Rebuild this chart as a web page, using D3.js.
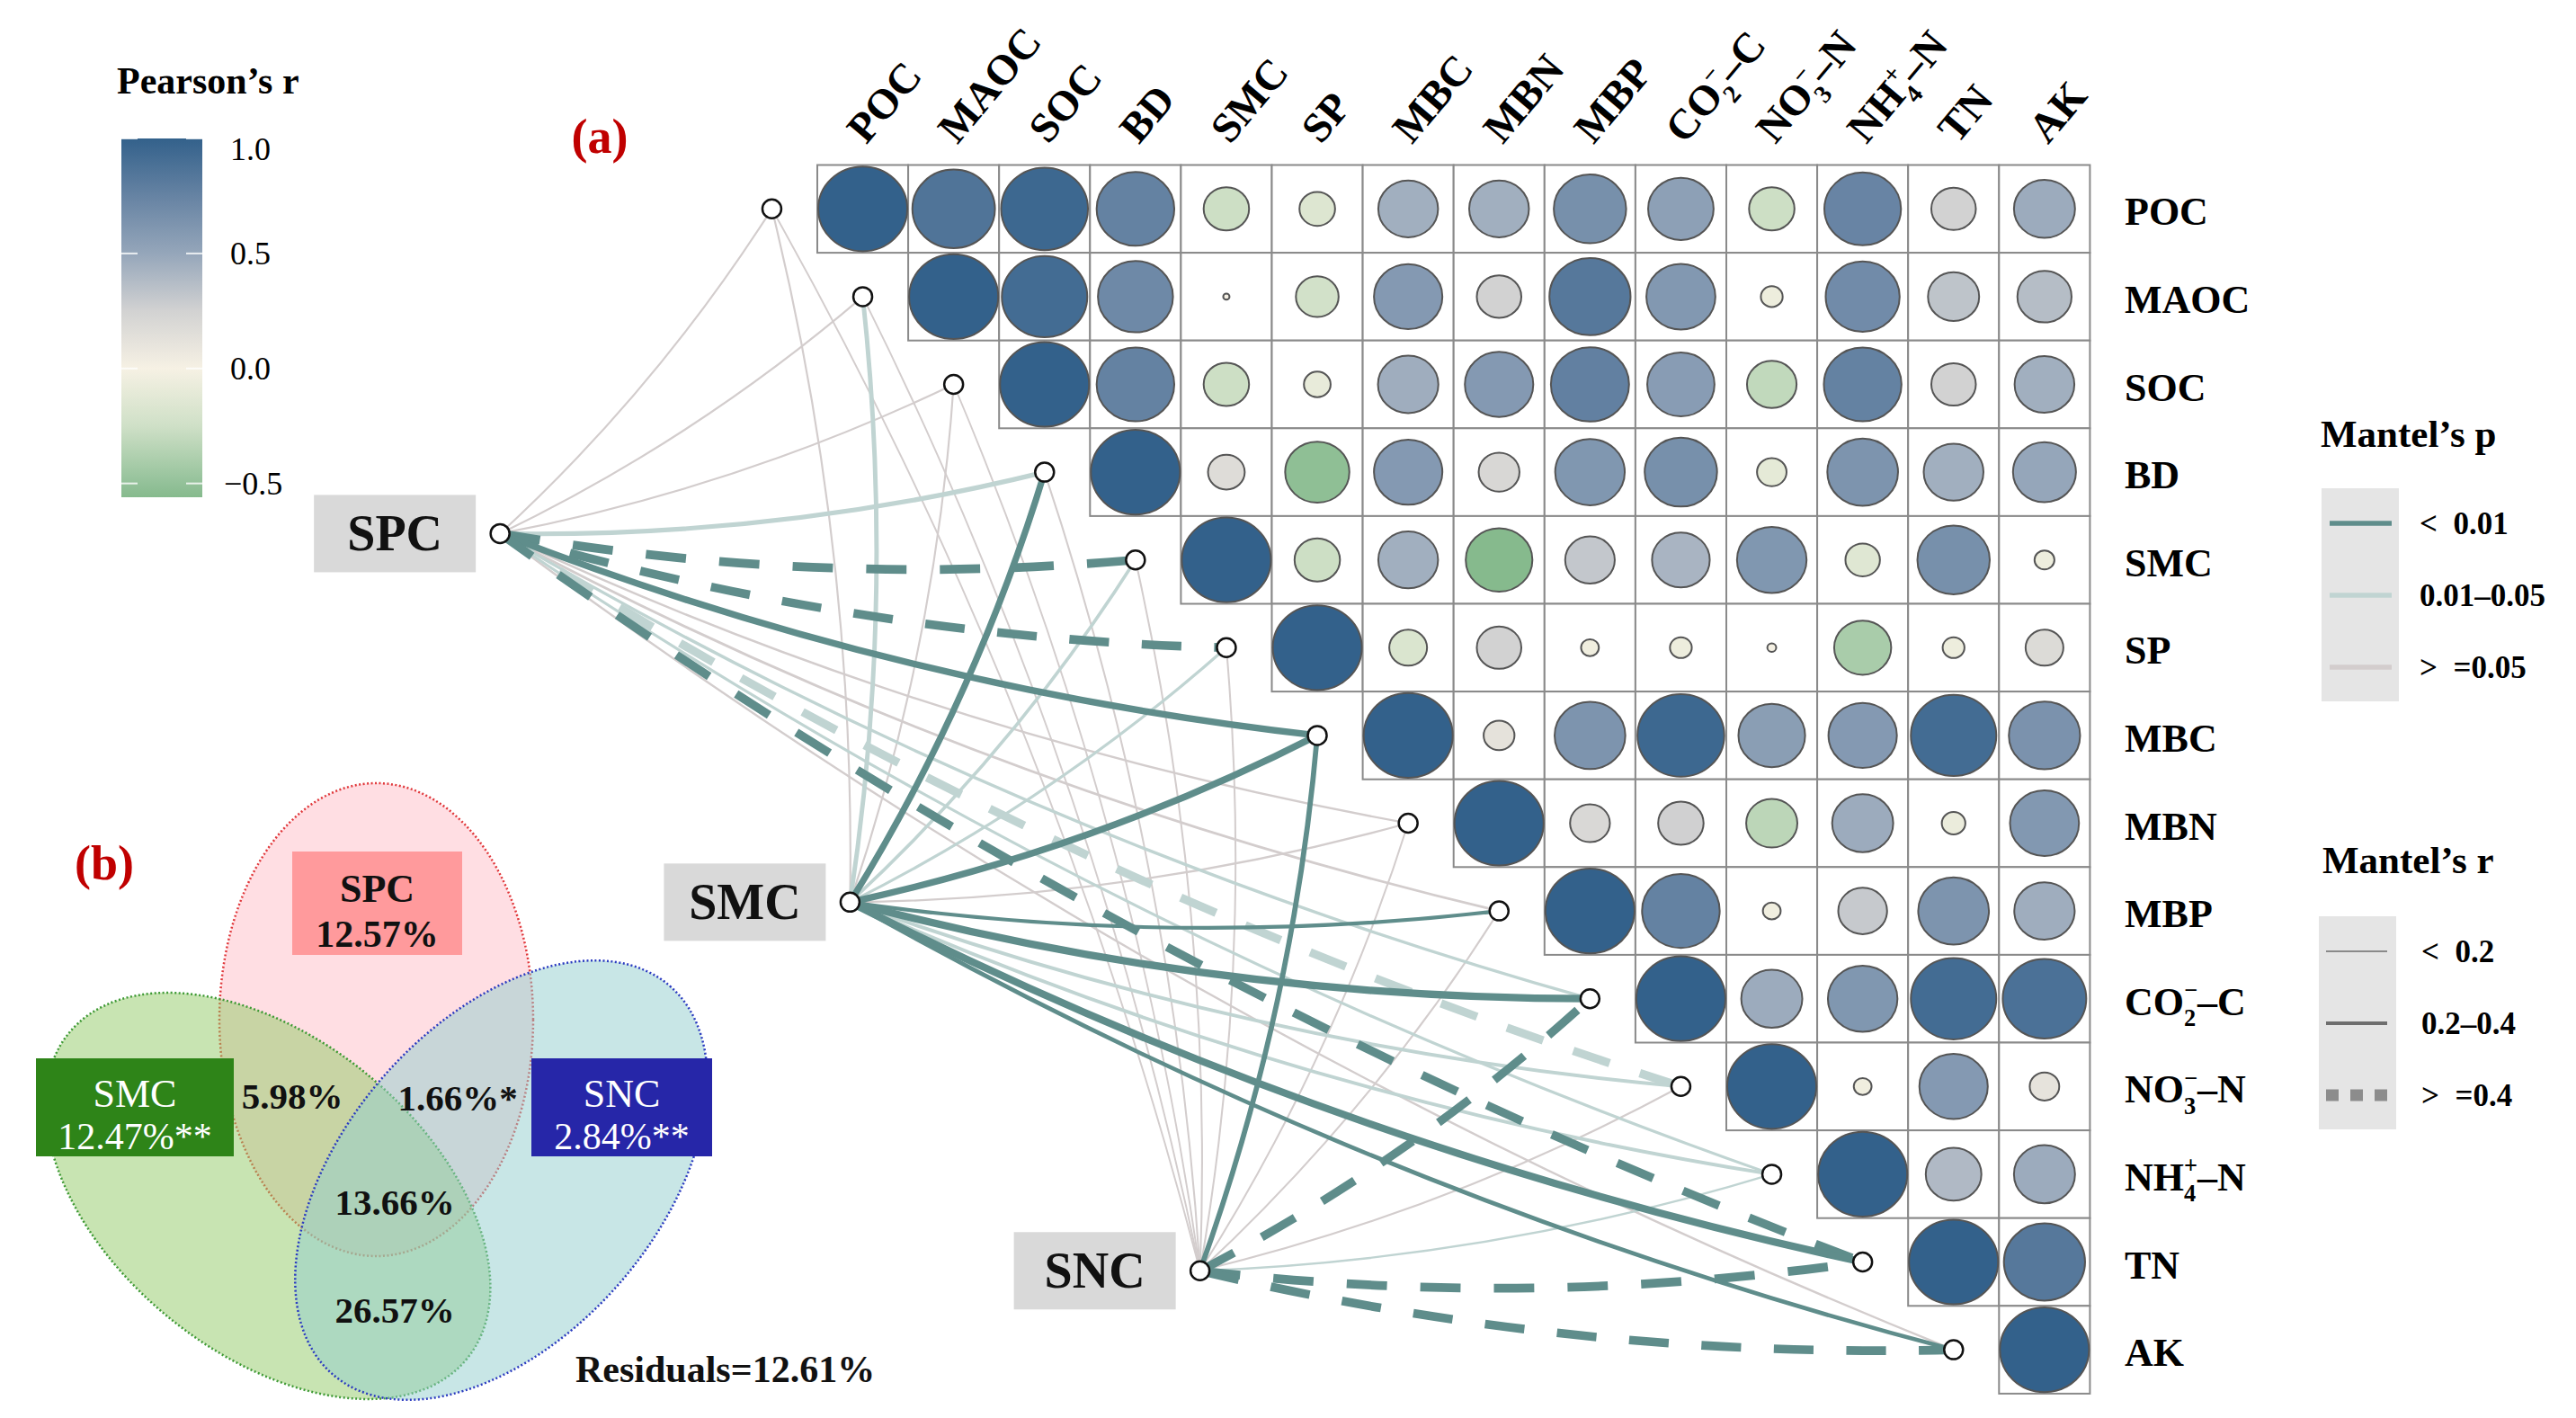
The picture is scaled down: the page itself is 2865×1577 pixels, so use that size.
<!DOCTYPE html>
<html><head><meta charset="utf-8">
<script src="https://cdn.jsdelivr.net/npm/d3@7"></script>
<style>
body{margin:0;background:#fff}
svg{display:block}
text{font-family:"Liberation Serif","DejaVu Serif",serif;white-space:pre}
</style>
</head><body>
<svg id="chart" width="2865" height="1577"></svg>
<script>
// ---------------- DATA ----------------
const variables = ["POC","MAOC","SOC","BD","SMC","SP","MBC","MBN","MBP","CO2","NO3","NH4","TN","AK"];
// label pieces: [text, kind]  kind: "" normal, "sub", "sup"
const labelParts = {
  CO2: [["CO",""],["2","sub"],["\u2212","sup"],["\u2013C",""]],
  NO3: [["NO",""],["3","sub"],["\u2212","sup"],["\u2013N",""]],
  NH4: [["NH",""],["4","sub"],["+","sup"],["\u2013N",""]]
};
// Pearson's r, upper triangle: row i holds columns i..13
const corrRows = [
  [1, 0.86, 0.95, 0.76, -0.26, -0.16, 0.45, 0.45, 0.66, 0.54, -0.26, 0.74, 0.25, 0.47],
  [1, 0.92, 0.71, 0.005, -0.23, 0.59, 0.25, 0.83, 0.60, -0.06, 0.69, 0.33, 0.37],
  [1, 0.76, -0.26, -0.09, 0.46, 0.59, 0.77, 0.57, -0.31, 0.76, 0.25, 0.45],
  [1, 0.17, -0.52, 0.59, 0.21, 0.61, 0.66, -0.11, 0.63, 0.45, 0.50],
  [1, -0.26, 0.45, -0.56, 0.31, 0.42, 0.61, -0.15, 0.66, -0.05],
  [1, -0.18, 0.25, -0.04, -0.06, -0.01, -0.41, -0.06, 0.18],
  [1, 0.12, 0.63, 0.95, 0.56, 0.59, 0.92, 0.64],
  [1, 0.20, 0.26, -0.33, 0.47, -0.07, 0.60],
  [1, 0.76, -0.04, 0.30, 0.63, 0.46],
  [1, 0.47, 0.61, 0.92, 0.88],
  [1, -0.04, 0.59, 0.11],
  [1, 0.39, 0.47],
  [1, 0.83],
  [1]
];
const groups = ["SPC","SMC","SNC"];
// Mantel's r and p of each group against each variable (order of `variables`)
const mantelR_SPC = [0.08,0.08,0.08,0.26,0.45,0.44,0.34,0.10,0.14,0.18,0.42,0.16,0.43,0.10];
const mantelP_SPC = [0.40,0.40,0.35,0.03,0.005,0.006,0.004,0.20,0.12,0.03,0.02,0.04,0.008,0.30];
const mantelR_SMC = [0.08,0.25,0.08,0.33,0.20,0.17,0.34,0.09,0.22,0.37,0.21,0.21,0.37,0.24];
const mantelP_SMC = [0.50,0.03,0.40,0.002,0.03,0.04,0.003,0.30,0.008,0.001,0.02,0.03,0.001,0.006];
const mantelR_SNC = [0.06,0.06,0.06,0.07,0.07,0.07,0.28,0.07,0.07,0.42,0.08,0.10,0.45,0.44];
const mantelP_SNC = [0.60,0.50,0.50,0.40,0.40,0.45,0.004,0.50,0.50,0.007,0.30,0.04,0.002,0.003];
const colorTicks = [-0.5, 0, 0.5, 1.0];
const pClasses = ["< 0.01", "0.01\u20130.05", "> =0.05"];
const rClasses = ["< 0.2", "0.2\u20130.4", "> =0.4"];
// Venn partition (variation partitioning)
const vennSets = ["SPC","SMC","SNC"];
const vennUnique = ["12.57%","12.47%**","2.84%**"];
const vennShared = ["5.98%","1.66%*","13.66%","26.57%"]; // SPC∩SMC, SPC∩SNC, all, SMC∩SNC
const vennResidual = "Residuals=12.61%";

// ---------------- SETUP ----------------
const svg = d3.select("#chart");
const W = 2865, H = 1577;
svg.append("rect").attr("width",W).attr("height",H).attr("fill","#fff");

const mLeft = 909, mTop = 183.5, cw = 101.1, ch = 97.6;
const x = d3.scaleBand().domain(variables).range([mLeft, mLeft + cw*variables.length]);
const y = d3.scaleBand().domain(variables).range([mTop, mTop + ch*variables.length]);
const color = d3.scaleLinear()
  .domain([-0.56,-0.5,-0.25,0,0.25,0.5,0.75,1])
  .range(["#86BA8D","#93C199","#CFE0C7","#F6F1E4","#D2D2D2","#95A6BA","#6683A3","#33618B"])
  .clamp(true);
const size = d3.scaleSqrt().domain([0,1]).range([0,0.49]);

function addLabel(sel, v, fs) {
  const parts = labelParts[v] || [[v,""]];
  let shift = 0;
  parts.forEach(([t, kind]) => {
    const ts = sel.append("tspan").text(t);
    if (kind === "sub") { ts.attr("font-size", fs*0.6).attr("dy", fs*0.28 - shift); shift = fs*0.28; }
    else if (kind === "sup") { ts.attr("font-size", fs*0.6).attr("dx", -fs*0.3).attr("dy", -fs*0.42 - shift); shift = -fs*0.42; }
    else { if (shift) ts.attr("dy", -shift); shift = 0; }
  });
}

// ---------------- MANTEL LINKS ----------------
const mantelR = [mantelR_SPC, mantelR_SMC, mantelR_SNC];
const mantelP = [mantelP_SPC, mantelP_SMC, mantelP_SNC];
// group node layout (in cell units relative to the matrix)
const gPos = groups.map((g,k) => [mLeft + (-3.49 + 3.85*k)*cw, mTop + 4.2*(k+1)*ch]);
const varNode = v => [x(v) - cw/2, y(v) + ch/2];
const pColor = p => p < 0.01 ? "#5F8D8B" : (p < 0.05 ? "#C0D4D2" : "#D3CDCD");
const pRank = p => p < 0.01 ? 2 : (p < 0.05 ? 1 : 0);
const width = d3.scaleLinear().domain([0.05,0.2,0.4,0.5]).range([1.8,3.6,9,10.5]).clamp(true);

const links = [];
groups.forEach((g,k) => variables.forEach((v,i) => links.push({g, v, s: gPos[k], t: varNode(v), r: mantelR[k][i], p: mantelP[k][i]})));
links.sort((a,b) => pRank(a.p) - pRank(b.p));
const curv = 0.065;
function linkPath(d) {
  const [sx,sy] = d.s, [tx,ty] = d.t;
  const dx = tx - sx, dy = ty - sy;
  const cx = (sx+tx)/2 - curv*dy, cy = (sy+ty)/2 + curv*dx;
  const p = d3.path(); p.moveTo(sx,sy); p.quadraticCurveTo(cx,cy,tx,ty); return p.toString();
}
const gLinks = svg.append("g");
gLinks.selectAll("path").data(links).join("path")
  .attr("d", linkPath)
  .attr("fill","none")
  .attr("stroke", d => pColor(d.p))
  .attr("stroke-width", d => width(d.r))
  .attr("stroke-dasharray", d => d.r >= 0.4 ? `${4.6*width(d.r)} ${3.8*width(d.r)}` : null)
  .attr("stroke-linecap","butt");

// ---------------- CORRELATION MATRIX ----------------
const cells = [];
corrRows.forEach((row,i) => row.forEach((r,jj) => cells.push({row: variables[i], col: variables[i+jj], r})));
const gM = svg.append("g");
gM.selectAll("rect").data(cells).join("rect")
  .attr("x", d => x(d.col)).attr("y", d => y(d.row))
  .attr("width", cw).attr("height", ch)
  .attr("fill","#fff").attr("stroke","#8A8A8A").attr("stroke-width",2);
gM.selectAll("ellipse").data(cells).join("ellipse")
  .attr("cx", d => x(d.col) + cw/2).attr("cy", d => y(d.row) + ch/2)
  .attr("rx", d => size(Math.abs(d.r))*cw).attr("ry", d => size(Math.abs(d.r))*ch*0.985)
  .attr("fill", d => color(d.r)).attr("stroke","#555").attr("stroke-width",2);

// nodes
svg.append("g").selectAll("circle").data(variables).join("circle")
  .attr("cx", v => varNode(v)[0]).attr("cy", v => varNode(v)[1]).attr("r", 10.5)
  .attr("fill","#fff").attr("stroke","#111").attr("stroke-width",2.5);
const gG = svg.append("g");
groups.forEach((g,k) => {
  const [nx,ny] = gPos[k];
  gG.append("rect").attr("x", nx-27-180).attr("y", ny-43).attr("width",180).attr("height",86).attr("fill","#D9D9D9");
  gG.append("text").attr("x", nx-27-90).attr("y", ny+19).attr("text-anchor","middle")
    .attr("font-size",56).attr("font-weight","bold").attr("fill","#111").text(g);
  gG.append("circle").attr("cx",nx).attr("cy",ny).attr("r",10.5).attr("fill","#fff").attr("stroke","#111").attr("stroke-width",2.5);
});

// axis labels
variables.forEach(v => {
  const t = svg.append("text").attr("font-size",47).attr("font-weight","bold")
    .attr("transform", `translate(${x(v)+cw/2+4},${mTop-22}) rotate(-50)`);
  addLabel(t, v, 47);
  const r = svg.append("text").attr("font-size",44).attr("font-weight","bold")
    .attr("x", 2363).attr("y", y(v)+ch/2+18);
  addLabel(r, v, 44);
});

// ---------------- PEARSON LEGEND ----------------
const ly = d3.scaleLinear().domain([-0.56,1]).range([553,154]);
const grad = svg.append("defs").append("linearGradient").attr("id","pg").attr("x1",0).attr("x2",0).attr("y1",1).attr("y2",0);
color.domain().forEach((d,i) => grad.append("stop").attr("offset", (d+0.56)/1.56).attr("stop-color", color.range()[i]));
svg.append("rect").attr("x",135).attr("y",154).attr("width",90).attr("height",399).attr("fill","url(#pg)");
colorTicks.forEach(t => {
  const yy = ly(t);
  svg.append("line").attr("x1",135).attr("x2",153).attr("y1",yy).attr("y2",yy).attr("stroke","#fff").attr("stroke-width",2).attr("opacity",0.8);
  svg.append("line").attr("x1",207).attr("x2",225).attr("y1",yy).attr("y2",yy).attr("stroke","#fff").attr("stroke-width",2).attr("opacity",0.8);
  svg.append("text").attr("x", t < 0 ? 249 : 256).attr("y", Math.max(yy,166)+12).attr("font-size",36).text(t < 0 ? "\u2212" + d3.format(".1f")(-t) : d3.format(".1f")(t));
});
svg.append("text").attr("x",130).attr("y",104).attr("font-size",42).attr("font-weight","bold").text("Pearson\u2019s r");

svg.append("text").attr("x",667).attr("y",170).attr("text-anchor","middle").attr("font-size",54).attr("font-weight","bold").attr("fill","#C00000").text("(a)");

// ---------------- MANTEL LEGENDS ----------------
svg.append("text").attr("x",2581).attr("y",497).attr("font-size",43).attr("font-weight","bold").text("Mantel\u2019s p");
svg.append("rect").attr("x",2582).attr("y",543).attr("width",86).attr("height",237).attr("fill","#E5E5E5");
const pLegendP = [0.005, 0.03, 0.2];
pClasses.forEach((lab,i) => {
  const yy = 582 + i*80;
  svg.append("line").attr("x1",2591).attr("x2",2660).attr("y1",yy).attr("y2",yy).attr("stroke",pColor(pLegendP[i])).attr("stroke-width",5.5);
  svg.append("text").attr("x",2691).attr("y",yy+12).attr("font-size",35).attr("font-weight","bold").text(lab.replace(" ","  "));
});
svg.append("text").attr("x",2583).attr("y",971).attr("font-size",43).attr("font-weight","bold").text("Mantel\u2019s r");
svg.append("rect").attr("x",2579).attr("y",1019).attr("width",86).attr("height",237).attr("fill","#E5E5E5");
const rLegW = [2.2, 4, 13], rLegC = ["#8A8A8A","#6E6E6E","#8C8C8C"];
rClasses.forEach((lab,i) => {
  const yy = 1058 + i*80;
  svg.append("line").attr("x1",2587).attr("x2",2655).attr("y1",yy).attr("y2",yy).attr("stroke",rLegC[i]).attr("stroke-width",rLegW[i])
    .attr("stroke-dasharray", i===2 ? "14 13" : null);
  svg.append("text").attr("x",2693).attr("y",yy+12).attr("font-size",35).attr("font-weight","bold").text(lab.replace(" ","  "));
});

// ---------------- VENN ----------------
const gV = svg.append("g");
const vennStyle = [
  {fill:"rgb(255,182,193)", op:0.45, stroke:"#E0383B", tr:"translate(418.5,1134)", rx:174.5, ry:263},
  {fill:"rgb(145,201,101)", op:0.5, stroke:"#3F9A35", tr:"translate(298,1330) rotate(39.3)", rx:286, ry:174.5},
  {fill:"rgb(145,205,205)", op:0.5, stroke:"#2B3BC0", tr:"translate(557.5,1312.5) rotate(-49)", rx:286, ry:174.5}
];
vennStyle.forEach(s => gV.append("ellipse").attr("transform",s.tr).attr("rx",s.rx).attr("ry",s.ry)
  .attr("fill",s.fill).attr("fill-opacity",s.op).attr("stroke",s.stroke).attr("stroke-width",2.5).attr("stroke-dasharray","2 2.5"));
const boxes = [
  {x:325, y:947, w:189, h:115, fill:"#FF9A9C", tc:"#111", fw:"bold"},
  {x:40, y:1177, w:220, h:109, fill:"#2E8418", tc:"#fff", fw:"normal"},
  {x:591, y:1177, w:201, h:109, fill:"#2626A8", tc:"#fff", fw:"normal"}
];
vennSets.forEach((s,i) => {
  const b = boxes[i];
  gV.append("rect").attr("x",b.x).attr("y",b.y).attr("width",b.w).attr("height",b.h).attr("fill",b.fill);
  gV.append("text").attr("x",b.x+b.w/2).attr("y",b.y+b.h*0.36+15).attr("text-anchor","middle").attr("font-size",44).attr("font-weight",b.fw).attr("fill",b.tc).text(s);
  gV.append("text").attr("x",b.x+b.w/2).attr("y",b.y+b.h*0.8+14).attr("text-anchor","middle").attr("font-size",42).attr("font-weight",b.fw).attr("fill",b.tc).text(vennUnique[i]);
});
const sharedPos = [[325,1219],[509,1221],[439,1337],[439,1457]];
vennShared.forEach((t,i) => gV.append("text").attr("x",sharedPos[i][0]).attr("y",sharedPos[i][1]+14).attr("text-anchor","middle").attr("font-size",41).attr("font-weight","bold").attr("fill","#111").text(t));
gV.append("text").attr("x",640).attr("y",1537).attr("font-size",42).attr("font-weight","bold").attr("fill","#111").text(vennResidual);
svg.append("text").attr("x",116).attr("y",978).attr("text-anchor","middle").attr("font-size",54).attr("font-weight","bold").attr("fill","#C00000").text("(b)");
</script>
</body></html>
